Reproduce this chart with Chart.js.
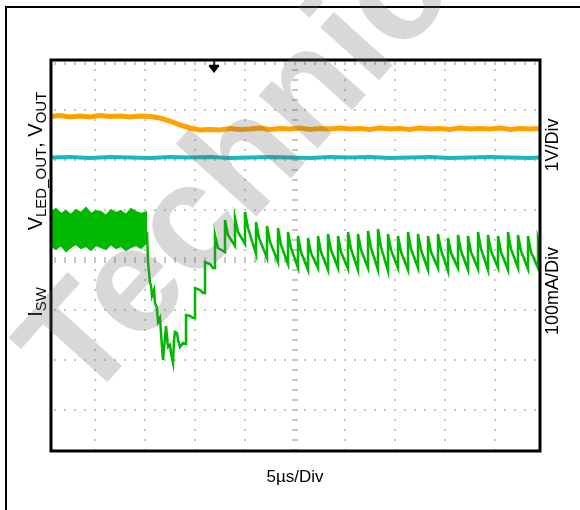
<!DOCTYPE html>
<html>
<head>
<meta charset="utf-8">
<script src="https://cdn.jsdelivr.net/npm/chart.js@4.4.1/dist/chart.umd.min.js"></script>
<style>
  html, body { margin: 0; padding: 0; background: #fff; }
  #caja { width: 580px; height: 510px; }
</style>
</head>
<body>
<div id="caja"><canvas id="grafica" width="580" height="510"></canvas></div>
<script>
/* Scope capture: time in µs (5µs/Div), vertical values in screen divisions */

let tiempoMin = 0.6, tiempoMax = 49.5;
let divMin = 0.18, divMax = 8;
let gridTiempos = [5, 10, 15, 20, 25, 30, 35, 40, 45];
let gridDivs = [1, 2, 3, 4, 5, 6, 7];
let centroT = 25, centroDiv = 4;
let disparoT = 16.9; // trigger mark at the top

// V_LED_OUT (orange)
let vLedT = [0.6, 1.5, 2.5, 3.5, 4.5, 5.5, 6.5, 7.5, 8.5, 9.5, 10.5, 11.5, 12.5, 13.5, 14.5, 15.5, 16.5, 17.5, 18.5, 19.5,
             20.5, 21.5, 22.5, 23.5, 24.5, 25.5, 26.5, 27.5, 28.5, 29.5, 30.5, 31.5, 32.5, 33.5, 34.5, 35.5, 36.5, 37.5, 38.5, 39.5,
             40.5, 41.5, 42.5, 43.5, 44.5, 45.5, 46.5, 47.5, 48.5, 49.5];
let vLed  = [6.87, 6.89, 6.86, 6.88, 6.86, 6.89, 6.87, 6.88, 6.86, 6.88, 6.87, 6.84, 6.78, 6.70, 6.64, 6.60, 6.61, 6.60, 6.63, 6.61,
             6.62, 6.64, 6.61, 6.63, 6.62, 6.64, 6.61, 6.63, 6.62, 6.64, 6.62, 6.63, 6.61, 6.64, 6.62, 6.63, 6.61, 6.64, 6.62, 6.63,
             6.61, 6.64, 6.62, 6.63, 6.62, 6.64, 6.61, 6.63, 6.62, 6.63];

// V_OUT (cyan)
let vOutT = [0.6, 2.5, 4.5, 6.5, 8.5, 10.5, 12.5, 14.5, 16.5, 18.5, 20.5, 22.5, 24.5, 26.5, 28.5, 30.5, 32.5, 34.5, 36.5, 38.5,
             40.5, 42.5, 44.5, 46.5, 48.5, 49.5];
let vOut  = [6.05, 6.06, 6.04, 6.06, 6.05, 6.04, 6.06, 6.05, 6.06, 6.04, 6.05, 6.06, 6.05, 6.04, 6.06, 6.05, 6.06, 6.04, 6.05, 6.06,
             6.04, 6.05, 6.06, 6.05, 6.04, 6.05];

// I_SW switching band before the step
let bandaT    = [0.6, 1.1, 1.6, 2.1, 2.6, 3.1, 3.6, 4.1, 4.6, 5.1, 5.6, 6.1, 6.6, 7.1, 7.6, 8.1, 8.6, 9.1, 9.6, 10.2];
let bandaAlta = [4.96, 5.02, 4.92, 4.98, 4.90, 5.00, 4.94, 5.04, 4.92, 4.98, 4.96, 4.88, 5.00, 4.94, 4.98, 4.90, 5.02, 4.96, 4.92, 4.96];
let bandaBaja = [4.28, 4.22, 4.30, 4.18, 4.26, 4.32, 4.24, 4.28, 4.20, 4.30, 4.26, 4.22, 4.32, 4.24, 4.28, 4.20, 4.26, 4.30, 4.24, 4.36];

// I_SW after the step
let iswT = [10.2, 10.3, 10.5, 10.6, 10.7, 10.9, 11.0, 11.2, 11.3, 11.5, 11.6, 11.8, 12.0, 12.1, 12.3, 12.5, 12.6, 12.8, 12.9, 13.0,
            13.2, 13.3, 13.5, 13.8, 14.1, 14.1, 14.5, 14.8, 15.0, 15.0, 15.5, 15.8, 16.0, 16.0, 16.5, 16.8, 17.0,
            17.0, 17.3, 18.0, 18.0, 18.3, 19.0, 19.0, 19.3, 20.0, 20.0, 20.3, 21.1, 21.1, 21.4, 22.2, 22.2, 22.5, 23.3,
            23.3, 23.6, 24.3, 24.3, 24.6, 25.3, 25.3, 25.6, 26.3, 26.3, 26.6, 27.3, 27.3, 27.6, 28.3, 28.3, 28.6, 29.3,
            29.3, 29.6, 30.3, 30.3, 30.6, 31.3, 31.3, 31.6, 32.3, 32.3, 32.6, 33.3, 33.3, 33.6, 34.3, 34.3, 34.6, 35.3,
            35.3, 35.6, 36.3, 36.3, 36.6, 37.3, 37.3, 37.6, 38.3, 38.3, 38.6, 39.3, 39.3, 39.6, 40.3, 40.3, 40.6, 41.3,
            41.3, 41.6, 42.3, 42.3, 42.6, 43.3, 43.3, 43.6, 44.3, 44.3, 44.6, 45.3, 45.3, 45.6, 46.3, 46.3, 46.6, 47.3,
            47.3, 47.6, 48.3, 48.3, 48.6, 49.3, 49.3, 49.5];
let isw  = [4.56, 3.96, 3.54, 3.50, 3.28, 3.40, 3.14, 3.04, 2.76, 2.84, 2.54, 2.00, 2.44, 2.68, 2.26, 2.30, 2.14, 1.94, 2.40, 2.56,
            2.54, 2.40, 2.26, 2.34, 2.32, 2.90, 2.88, 2.84, 2.84, 3.44, 3.40, 3.34, 3.34, 3.96, 3.92, 3.84, 3.84,
            4.50, 4.24, 4.16, 4.80, 4.50, 4.28, 4.84, 4.56, 4.32, 4.96, 4.64, 4.12, 4.76, 4.44, 4.04, 4.68, 4.36, 3.96,
            4.64, 4.30, 3.92, 4.56, 4.24, 3.84, 4.48, 4.16, 3.80, 4.44, 4.14, 3.84, 4.48, 4.16, 3.80, 4.52, 4.20, 3.84,
            4.48, 4.16, 3.82, 4.56, 4.22, 3.80, 4.52, 4.20, 3.84, 4.58, 4.24, 3.80, 4.62, 4.26, 3.78, 4.52, 4.20, 3.84,
            4.48, 4.16, 3.80, 4.56, 4.22, 3.84, 4.52, 4.20, 3.80, 4.48, 4.16, 3.84, 4.52, 4.20, 3.78, 4.44, 4.14, 3.84,
            4.50, 4.18, 3.80, 4.48, 4.16, 3.82, 4.56, 4.22, 3.80, 4.50, 4.18, 3.84, 4.48, 4.16, 3.80, 4.56, 4.22, 3.84,
            4.50, 4.18, 3.82, 4.48, 4.16, 3.84, 4.44, 4.30];

let fuente = '"Liberation Sans", Arial, sans-serif';

function puntos(ts, ys) {
    return ts.map((t, i) => ({x: t, y: ys[i]}));
}

// text with subscripts, centred on (cx, cy) and rotated
function textoCompuesto(ctx, partes, cx, cy, angulo) {
    ctx.save();
    ctx.translate(cx, cy);
    ctx.rotate(angulo);
    ctx.fillStyle = '#000';
    ctx.textBaseline = 'alphabetic';
    ctx.textAlign = 'left';
    let total = 0;
    partes.forEach(p => {
        ctx.font = p.size + 'px ' + fuente;
        p.w = ctx.measureText(p.text).width;
        total += p.w;
    });
    let x = -total / 2;
    partes.forEach(p => {
        ctx.font = p.size + 'px ' + fuente;
        ctx.fillText(p.text, x, p.dy);
        x += p.w;
    });
    ctx.restore();
}

let pluginOsciloscopio = {
    id: 'osciloscopio',
    beforeDatasetsDraw(chart) {
        let ctx = chart.ctx, xs = chart.scales.x, ys = chart.scales.y;
        let top = ys.getPixelForValue(divMax);
        ctx.save();
        ctx.fillStyle = '#c6c6c6';
        // dotted vertical lines
        gridTiempos.forEach(t => {
            let px = xs.getPixelForValue(t);
            for (let d = 0.2; d < divMax - 0.01; d += 0.2) {
                let py = ys.getPixelForValue(d);
                if (t === centroT) ctx.fillRect(px - 3, py - 1, 6, 2);
                else ctx.fillRect(px - 1, py - 1, 2, 2);
            }
        });
        // dotted horizontal lines
        gridDivs.forEach(d => {
            let py = ys.getPixelForValue(d);
            for (let t = 1; t < tiempoMax; t += 1) {
                let px = xs.getPixelForValue(t);
                if (d === centroDiv) ctx.fillRect(px - 1, py - 3, 2, 6);
                else ctx.fillRect(px - 1, py - 1, 2, 2);
            }
        });
        // tick row under the top edge
        for (let t = 1; t < tiempoMax; t += 1) {
            ctx.fillRect(xs.getPixelForValue(t) - 1, top + 2, 2, 3);
        }
        ctx.restore();
    },
    afterDatasetsDraw(chart) {
        let ctx = chart.ctx, a = chart.chartArea;
        ctx.save();
        ctx.strokeStyle = '#000';
        ctx.lineWidth = 3;
        ctx.strokeRect(a.left, a.top, a.right - a.left, a.bottom - a.top);
        // trigger mark
        let px = chart.scales.x.getPixelForValue(disparoT);
        ctx.lineWidth = 1.5;
        ctx.beginPath();
        ctx.moveTo(px, a.top);
        ctx.lineTo(px, a.top + 7);
        ctx.moveTo(px - 5, a.top + 5.5);
        ctx.lineTo(px + 5, a.top + 5.5);
        ctx.stroke();
        ctx.fillStyle = '#000';
        ctx.beginPath();
        ctx.moveTo(px - 5.5, a.top + 6);
        ctx.lineTo(px + 5.5, a.top + 6);
        ctx.lineTo(px, a.top + 13);
        ctx.closePath();
        ctx.fill();
        ctx.restore();
    },
    afterDraw(chart) {
        let ctx = chart.ctx;
        ctx.save();
        // outer frame of the figure
        ctx.strokeStyle = '#000';
        ctx.lineWidth = 2;
        ctx.beginPath();
        ctx.moveTo(6, 510);
        ctx.lineTo(6, 7);
        ctx.lineTo(580, 7);
        ctx.stroke();
        ctx.restore();

        textoCompuesto(ctx, [
            {text: 'V', size: 20, dy: 7},
            {text: 'LED_OUT', size: 15, dy: 11},
            {text: ', V', size: 20, dy: 7},
            {text: 'OUT', size: 15, dy: 11}
        ], 35, 161, -Math.PI / 2);
        textoCompuesto(ctx, [
            {text: 'I', size: 20, dy: 7},
            {text: 'SW', size: 15, dy: 11}
        ], 35, 302, -Math.PI / 2);
        textoCompuesto(ctx, [{text: '1V/Div', size: 18, dy: 6}], 552, 145, -Math.PI / 2);
        textoCompuesto(ctx, [{text: '100mA/Div', size: 18, dy: 6}], 552, 291, -Math.PI / 2);
        textoCompuesto(ctx, [{text: '5µs/Div', size: 17, dy: 6}], 295, 476, 0);

        // watermark
        ctx.save();
        ctx.translate(84, 408);
        ctx.rotate(-48 * Math.PI / 180);
        ctx.font = 'bold 150px ' + fuente;
        ctx.fillStyle = 'rgba(100, 100, 100, 0.25)';
        ctx.fillText('Technical', 0, 0);
        ctx.restore();
    }
};

function crearGrafica() {
    let ctx = document.getElementById('grafica').getContext('2d');
    let linea = {pointRadius: 0, tension: 0, fill: false};
    return new Chart(ctx, {
        type: 'line',
        data: {
            datasets: [
                Object.assign({label: 'V_LED_OUT', data: puntos(vLedT, vLed), borderColor: '#ffa200', borderWidth: 5}, linea),
                Object.assign({label: 'V_OUT', data: puntos(vOutT, vOut), borderColor: '#17b9be', borderWidth: 4}, linea),
                Object.assign({label: 'I_SW', data: puntos(iswT, isw), borderColor: '#00b800', borderWidth: 2.5}, linea),
                {label: 'I_SW band top', data: puntos(bandaT, bandaAlta), borderColor: '#00b800', borderWidth: 2,
                 backgroundColor: '#00b800', pointRadius: 0, tension: 0, fill: '+1'},
                Object.assign({label: 'I_SW band bottom', data: puntos(bandaT, bandaBaja), borderColor: '#00b800', borderWidth: 2}, linea)
            ]
        },
        options: {
            responsive: false,
            animation: false,
            devicePixelRatio: 1,
            layout: {padding: {left: 51, top: 60, right: 40, bottom: 59}},
            plugins: {legend: {display: false}, tooltip: {enabled: false}},
            scales: {
                x: {type: 'linear', min: tiempoMin, max: tiempoMax, display: false},
                y: {type: 'linear', min: divMin, max: divMax, display: false}
            }
        },
        plugins: [pluginOsciloscopio]
    });
}

crearGrafica();
</script>
</body>
</html>
